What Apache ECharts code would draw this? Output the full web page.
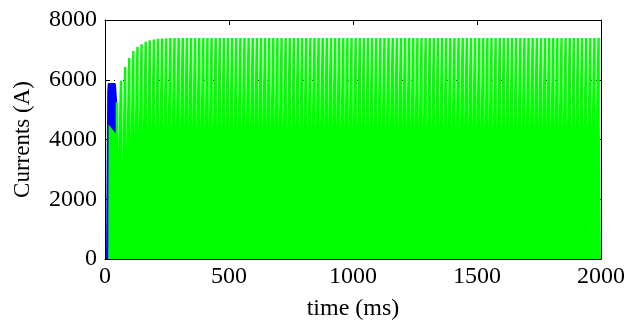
<!DOCTYPE html>
<html><head><meta charset="utf-8">
<script src="https://cdn.jsdelivr.net/npm/echarts@6/dist/echarts.min.js"></script>
<style>html,body{margin:0;padding:0;background:#fff}#c{width:629px;height:322px}</style>
</head><body><div id="c"></div>
<script>
// x-axis ticks
const xTicks = [0, 500, 1000, 1500, 2000];
const yTicks = [0, 2000, 4000, 6000, 8000];
// green current: per-cycle peaks (A) (transient then steady)
const greenPeaks = [5250, 5970, 6430, 6730, 6960, 7100, 7190, 7270, 7320, 7350, 7370, 7380, 7390, 7400,
 7400,7400,7400,7400,7400,7400,7400,7400,7400,7400,7400,7400,7400,7400,7400,7400,7400,7400,7400,7400,
 7400,7400,7400,7400,7400,7400,7400,7400,7400,7400,7400,7400,7400,7400,7400,7400,7400,7400,7400,7400,
 7400,7400,7400,7400,7400,7400,7400,7400,7400,7400,7400,7400,7400,7400,7400,7400,7400,7400,7400,7400,
 7400,7400,7400,7400,7400,7400,7400,7400,7400,7400,7400,7400,7400,7400,7400,7400,7400,7400,7400,7400,
 7400,7400,7400,7400,7400,7400,7400,7400,7400,7400,7400,7400,7400,7400,7400,7400,7400,7400,7400,7400,7400,7400,7400,7400];
// green current: per-cycle troughs (A)
const greenTroughs = [4200, 3500, 3300, 3700, 3950, 4100, 4200, 4250, 4280, 4300, 4320, 4330, 4330, 4330,
 4330,4330,4330,4330,4330,4330,4330,4330,4330,4330,4330,4330,4330,4330,4330,4330,4330,4330,4330,4330,
 4330,4330,4330,4330,4330,4330,4330,4330,4330,4330,4330,4330,4330,4330,4330,4330,4330,4330,4330,4330,
 4330,4330,4330,4330,4330,4330,4330,4330,4330,4330,4330,4330,4330,4330,4330,4330,4330,4330,4330,4330,
 4330,4330,4330,4330,4330,4330,4330,4330,4330,4330,4330,4330,4330,4330,4330,4330,4330,4330,4330,4330,
 4330,4330,4330,4330,4330,4330,4330,4330,4330,4330,4330,4330,4330,4330,4330,4330,4330,4330,4330,4330,4330,4330,4330,4330];
const firstCycleMs = 48;     // centre of first green pulse
const periodMs = 16.6;       // pulse period
// green start-up (time ms, current A)
const greenStartT = [0, 0.6, 13, 14.5];
const greenStartV = [8000, 0, 0, 4500];
// blue current (time ms, current A)
const blueT = [8, 10.5, 13, 15, 40, 43, 46, 47];
const blueV = [0, 0, 5600, 5860, 5860, 5500, 5150, 0];

const halfBar = 5;
const green = greenStartT.map((t, i) => [t, greenStartV[i]]);
for (let k = 0; k < greenPeaks.length; k++) {
  const c = firstCycleMs + k * periodMs;
  if (c - halfBar > 2000) break;
  const tr = greenTroughs[k];
  const trNext = k + 1 < greenTroughs.length ? greenTroughs[k + 1] : tr;
  green.push([c - halfBar, tr], [c - halfBar + 0.1, greenPeaks[k]], [c + halfBar, greenPeaks[k]], [c + halfBar + 0.1, trNext]);
}
green.push([2000, greenTroughs[greenTroughs.length - 1]]);
const blue = blueT.map((t, i) => [t, blueV[i]]);

const font = 'Liberation Serif, Times New Roman, serif';
const plain = v => String(v);
const chart = echarts.init(document.getElementById('c'), null, {renderer: 'canvas'});
chart.setOption({
  animation: false,
  grid: {left: 105, right: 28, top: 20, bottom: 63, containLabel: false, outerBoundsMode: 'none'},
  xAxis: [{
    type: 'value', min: xTicks[0], max: xTicks[xTicks.length - 1], interval: 500,
    name: 'time (ms)', nameLocation: 'middle', nameGap: 38,
    nameTextStyle: {fontFamily: font, fontSize: 24, color: '#000'},
    axisLine: {show: true, onZero: false, lineStyle: {color: '#000', width: 1}},
    axisTick: {show: true, inside: true, length: 5, lineStyle: {color: '#000'}},
    axisLabel: {fontFamily: font, fontSize: 24, color: '#000', margin: 6, formatter: plain},
    splitLine: {show: false}
  }, {
    type: 'value', position: 'top', min: 0, max: 2000, interval: 500,
    axisLine: {show: true, onZero: false, lineStyle: {color: '#000', width: 1}},
    axisTick: {show: true, inside: true, length: 5, lineStyle: {color: '#000'}},
    axisLabel: {show: false}, splitLine: {show: false}
  }],
  yAxis: [{
    type: 'value', min: yTicks[0], max: yTicks[yTicks.length - 1], interval: 2000,
    name: 'Currents (A)', nameLocation: 'middle', nameGap: 71, nameRotate: 90,
    nameTextStyle: {fontFamily: font, fontSize: 23, color: '#000'},
    axisLine: {show: true, onZero: false, lineStyle: {color: '#000', width: 1}},
    axisTick: {show: true, inside: true, length: 5, lineStyle: {color: '#000'}},
    axisLabel: {fontFamily: font, fontSize: 24, color: '#000', margin: 8, formatter: plain},
    splitLine: {show: true, lineStyle: {color: '#000', type: [1, 8], width: 1}}
  }, {
    type: 'value', position: 'right', min: 0, max: 8000, interval: 2000,
    axisLine: {show: true, onZero: false, lineStyle: {color: '#000', width: 1}},
    axisTick: {show: true, inside: true, length: 5, lineStyle: {color: '#000'}},
    axisLabel: {show: false}, splitLine: {show: false}
  }],
  series: [{
    type: 'line', data: blue, showSymbol: false, z: 2,
    lineStyle: {color: '#0000ff', width: 2},
    areaStyle: {color: '#0000ff', opacity: 1}
  }, {
    type: 'line', data: green, showSymbol: false, z: 3,
    lineStyle: {color: '#00ff00', width: 0},
    areaStyle: {color: '#00ff00', opacity: 1}
  }]
});
</script></body></html>
